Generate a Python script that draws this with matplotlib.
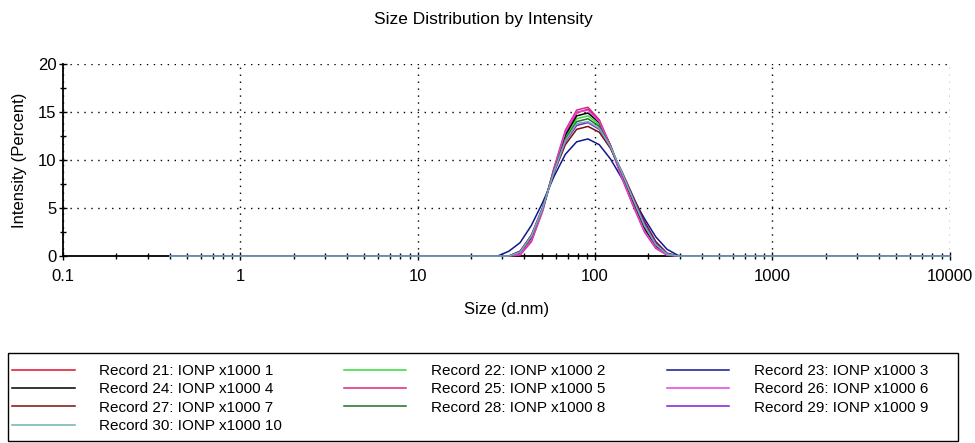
import numpy as np
import matplotlib.pyplot as plt
from matplotlib.patches import Rectangle
from matplotlib.ticker import LogLocator, MultipleLocator, FixedLocator, NullFormatter

plt.rcParams["font.family"] = ["Liberation Sans", "DejaVu Sans"]

# size classes of the instrument (d.nm)
size_bins = [0.4, 0.4632, 0.5365, 0.6213, 0.7195, 0.8332, 0.9649, 1.117, 1.294, 1.499,
             1.736, 2.010, 2.328, 2.696, 3.122, 3.615, 4.187, 4.849, 5.615, 6.503,
             7.531, 8.721, 10.10, 11.70, 13.54, 15.69, 18.17, 21.04, 24.36, 28.21,
             32.67, 37.84, 43.82, 50.75, 58.77, 68.06, 78.82, 91.28, 105.7, 122.4,
             141.8, 164.2, 190.1, 220.2, 255.0, 295.3, 342.0, 396.1, 458.7, 531.2,
             615.1, 712.4, 825.0, 955.4, 1106, 1281, 1484, 1718, 1990, 2305,
             2669, 3091, 3580, 4145, 4801, 5560, 6439, 7456, 8635, 10000]

# intensity (%) for the classes 28.21 .. 342.0 nm; every other class is 0
peak_sizes = [28.21, 32.67, 37.84, 43.82, 50.75, 58.77, 68.06, 78.82, 91.28, 105.7,
              122.4, 141.8, 164.2, 190.1, 220.2, 255.0, 295.3, 342.0]

rec21 = [0, 0, 0.3, 1.9, 4.9, 9.1, 12.8, 14.9, 15.3, 14.1, 11.5, 8.3, 5.5, 2.8, 0.9, 0.15, 0, 0]
rec22 = [0, 0, 0.4, 2.0, 5.0, 9.0, 12.4, 14.3, 14.6, 13.7, 11.4, 8.5, 5.7, 3.0, 1.1, 0.2, 0, 0]
rec23 = [0, 0.5, 1.4, 3.2, 5.6, 8.3, 10.6, 11.9, 12.2, 11.6, 10.1, 8.1, 6.0, 3.9, 2.0, 0.7, 0.05, 0]
rec24 = [0, 0, 0.3, 1.9, 4.9, 9.0, 12.6, 14.6, 14.9, 13.9, 11.5, 8.5, 5.6, 2.9, 1.0, 0.2, 0, 0]
rec25 = [0, 0, 0.1, 1.5, 4.7, 9.2, 13.1, 15.2, 15.5, 14.2, 11.4, 8.1, 5.2, 2.5, 0.8, 0.1, 0, 0]
rec26 = [0, 0, 0.2, 1.7, 4.8, 9.1, 12.9, 15.0, 15.2, 14.0, 11.4, 8.2, 5.3, 2.6, 0.9, 0.1, 0, 0]
rec27 = [0, 0, 0.5, 2.2, 5.1, 8.7, 11.6, 13.2, 13.5, 12.9, 11.2, 8.8, 6.2, 3.6, 1.5, 0.3, 0, 0]
rec28 = [0, 0, 0.4, 2.0, 5.0, 8.9, 12.2, 14.0, 14.3, 13.5, 11.4, 8.6, 5.8, 3.1, 1.2, 0.2, 0, 0]
rec29 = [0, 0, 0.5, 2.1, 5.0, 8.8, 11.9, 13.6, 13.9, 13.2, 11.3, 8.7, 6.0, 3.4, 1.3, 0.25, 0, 0]
rec30 = [0, 0, 0.4, 2.1, 5.0, 8.8, 12.0, 13.8, 14.0, 13.3, 11.4, 8.7, 5.9, 3.2, 1.2, 0.2, 0, 0]

labels = ["Record 21: IONP x1000 1", "Record 22: IONP x1000 2", "Record 23: IONP x1000 3",
          "Record 24: IONP x1000 4", "Record 25: IONP x1000 5", "Record 26: IONP x1000 6",
          "Record 27: IONP x1000 7", "Record 28: IONP x1000 8", "Record 29: IONP x1000 9",
          "Record 30: IONP x1000 10"]
records = [rec21, rec22, rec23, rec24, rec25, rec26, rec27, rec28, rec29, rec30]
colors = ["#e0102a", "#33dd33", "#101890", "#000000", "#d6287e",
          "#e040e0", "#7a0f0f", "#1f6e2a", "#7a1fcf", "#6fb0b0"]

sizes = np.array(size_bins)
start = size_bins.index(peak_sizes[0])

fig = plt.figure(figsize=(9.75, 4.43), dpi=100)
ax = fig.add_axes([0.0646, 0.422, 0.9094, 0.4335])

handles = []
for vals, lab, c in zip(records, labels, colors):
    y = np.zeros(len(size_bins))
    y[start:start + len(vals)] = vals
    h, = ax.plot(sizes, y, color=c, lw=1.1, label=lab, zorder=3, clip_on=False)
    handles.append(h)

ax.set_xscale("log")
ax.set_xlim(0.1, 10000)
ax.set_ylim(0, 20)
ax.xaxis.set_major_locator(FixedLocator([0.1, 1, 10, 100, 1000, 10000]))
ax.xaxis.set_minor_locator(LogLocator(base=10, subs=np.arange(2, 10)))
ax.xaxis.set_minor_formatter(NullFormatter())
ax.set_xticklabels(["0.1", "1", "10", "100", "1000", "10000"])
ax.yaxis.set_major_locator(MultipleLocator(5))
ax.yaxis.set_minor_locator(MultipleLocator(2.5))

ax.tick_params(which="both", direction="inout", color="black", labelsize=12)
ax.tick_params(which="major", length=6, width=1)
ax.tick_params(which="minor", length=4, width=1)
ax.tick_params(axis="x", pad=6)
ax.tick_params(axis="y", pad=1.5)

for s in ["top", "right"]:
    ax.spines[s].set_visible(False)
for s in ["left", "bottom"]:
    ax.spines[s].set_linewidth(1.3)

ax.grid(True, which="major", linestyle=(0, (1, 4)), color="black", lw=1.0)
ax.set_axisbelow(True)

ax.set_xlabel("Size (d.nm)", fontsize=12, labelpad=13)
ax.set_ylabel("Intensity (Percent)", fontsize=12, labelpad=8)
fig.text(0.496, 0.955, "Size Distribution by Intensity", ha="center", va="center", fontsize=12.5)

# legend filled row by row: 21 22 23 / 24 25 26 / 27 28 29 / 30
order = [0, 3, 6, 9, 1, 4, 7, 2, 5, 8]
leg = fig.legend([handles[i] for i in order], [labels[i] for i in order],
                 loc="upper left", bbox_to_anchor=(12 / 975, 0.178, 916 / 975, 0.0),
                 mode="expand", ncol=3, fontsize=11, frameon=False,
                 handlelength=4.1, handletextpad=1.6, labelspacing=0.28,
                 borderaxespad=0, borderpad=0)
fig.add_artist(Rectangle((8 / 975, 2 / 443), 950 / 975, 88 / 443, transform=fig.transFigure,
                         fill=False, edgecolor="black", lw=1.0))

fig.savefig("out.png", dpi=100)
